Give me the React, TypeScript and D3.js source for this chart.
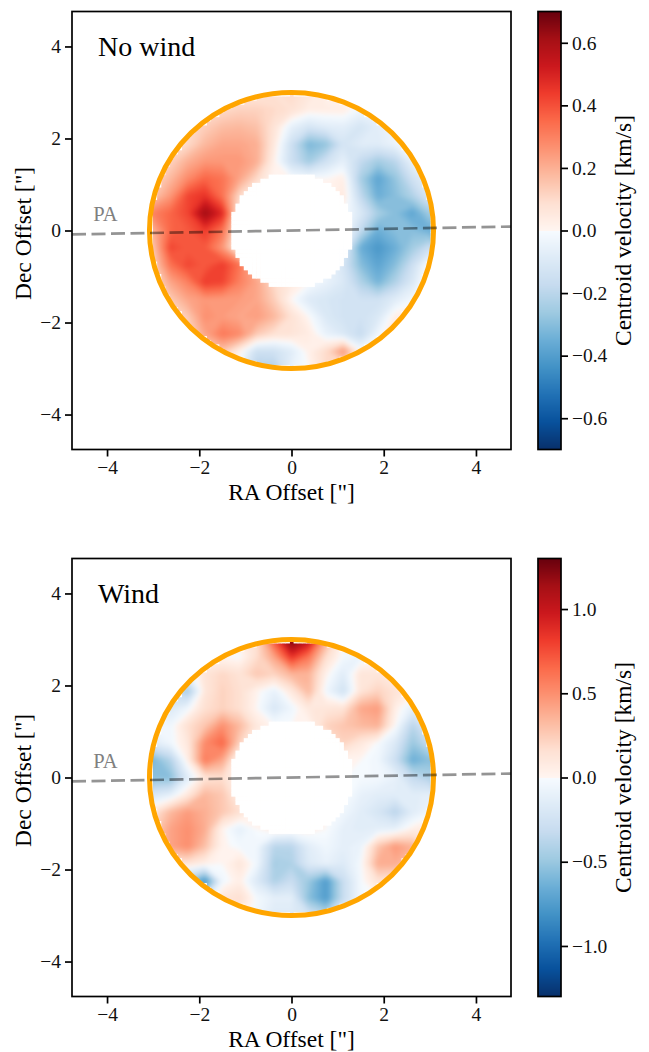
import { useEffect, useRef } from "react";
import * as d3 from "d3";

const WIDTH = 649;
const HEIGHT = 1052;

// offsets of the velocity grid in arcsec, rows run from +3 down to -3
const gridOffsets = [-3, -2.625, -2.25, -1.875, -1.5, -1.125, -0.75, -0.375, 0, 0.375, 0.75, 1.125, 1.5, 1.875, 2.25, 2.625, 3];

const noWindValues = [
  [0, 0, 0, 0.03, 0.05, 0.05, 0.06, 0.08, 0.1, 0.06, 0.02, 0, -0.02, -0.02, 0, 0, 0],
  [0.05, 0.05, 0.08, 0.1, 0.1, 0.12, 0.12, 0.1, 0.08, 0.03, 0.03, 0.03, -0.03, -0.03, -0.02, 0, 0],
  [0.05, 0.08, 0.1, 0.13, 0.17, 0.18, 0.16, 0.07, -0.06, -0.12, -0.08, -0.07, -0.12, -0.07, -0.03, 0, 0],
  [0.05, 0.08, 0.1, 0.18, 0.22, 0.22, 0.2, 0.05, -0.15, -0.32, -0.28, -0.12, -0.08, -0.08, -0.04, -0.02, 0],
  [0.08, 0.12, 0.2, 0.25, 0.25, 0.25, 0.2, 0.02, -0.15, -0.25, -0.14, -0.06, -0.18, -0.25, -0.2, -0.05, -0.02],
  [0.1, 0.18, 0.28, 0.36, 0.33, 0.22, 0.1, 0, 0, 0, 0, 0.03, -0.24, -0.38, -0.28, -0.14, -0.05],
  [0.15, 0.25, 0.42, 0.46, 0.33, 0.1, 0, 0, 0, 0, 0, 0.05, -0.18, -0.35, -0.3, -0.22, -0.1],
  [0.3, 0.36, 0.42, 0.62, 0.48, 0.02, 0, 0, 0, 0, 0, 0, -0.1, -0.24, -0.3, -0.38, -0.25],
  [0.2, 0.36, 0.38, 0.44, 0.33, 0.03, 0, 0, 0, 0, 0, 0, -0.18, -0.35, -0.3, -0.3, -0.35],
  [0.15, 0.42, 0.38, 0.38, 0.25, 0, 0, 0, 0, 0, 0, -0.06, -0.35, -0.42, -0.35, -0.25, -0.15],
  [0.12, 0.33, 0.42, 0.38, 0.44, 0.33, 0.12, 0, 0, 0, 0, -0.12, -0.3, -0.38, -0.3, -0.15, 0.02],
  [0.08, 0.22, 0.3, 0.44, 0.42, 0.3, 0.22, 0.1, 0.05, 0, -0.05, -0.1, -0.22, -0.33, -0.22, -0.1, 0.05],
  [0.03, 0.14, 0.22, 0.25, 0.24, 0.24, 0.22, 0.13, 0, -0.09, -0.11, -0.13, -0.14, -0.14, -0.08, -0.02, 0.02],
  [0.02, 0.08, 0.14, 0.27, 0.24, 0.22, 0.24, 0.18, 0.08, 0, -0.1, -0.13, -0.14, -0.1, 0.03, 0.05, 0.03],
  [0, 0.05, 0.1, 0.22, 0.32, 0.28, 0.14, 0.08, 0.07, 0.04, -0.05, -0.1, -0.17, -0.03, 0.08, 0.03, 0],
  [0, 0, 0.05, 0.1, 0.15, 0.02, -0.15, -0.14, -0.08, 0.02, 0.1, 0.25, 0, 0, 0, 0, 0],
  [0, 0, 0, 0.05, 0.05, -0.05, -0.22, -0.22, -0.05, 0, 0.1, 0.05, 0, 0, 0, 0, 0],
];

const windValues = [
  [0, 0, 0, 0, 0.02, 0.05, 0.15, 0.75, 1.3, 1.05, 0.4, 0, -0.05, -0.05, 0, 0, 0],
  [0, 0, 0, 0, 0, -0.02, 0.17, 0.42, 0.85, 0.6, 0.17, -0.03, -0.08, -0.05, 0, 0, 0],
  [0, 0, -0.1, 0.13, 0.2, 0.14, 0.27, 0.22, 0.35, 0.35, 0.03, -0.15, 0.12, 0.12, 0.05, 0, 0],
  [-0.1, -0.3, -0.45, 0.12, 0.22, 0.16, 0.02, -0.1, 0.1, 0.33, -0.05, -0.25, 0.13, 0.22, 0.14, 0.05, 0],
  [-0.1, -0.18, -0.05, 0.16, 0.22, 0.16, 0, -0.2, -0.06, 0.1, 0.12, 0.14, 0.4, 0.45, 0.05, -0.12, -0.12],
  [-0.05, -0.05, 0.16, 0.28, 0.5, 0.33, 0.1, 0, 0, 0, 0.22, 0.28, 0.33, 0.36, 0, -0.38, -0.14],
  [-0.15, -0.05, 0.1, 0.52, 0.66, 0.22, 0, 0, 0, 0, 0, 0.22, 0.1, -0.02, -0.18, -0.5, -0.3],
  [-0.6, -0.4, 0.05, 0.58, 0.4, -0.05, 0, 0, 0, 0, 0, 0, 0, -0.05, -0.28, -0.65, -0.55],
  [-0.55, -0.55, -0.15, 0.13, 0.17, 0, 0, 0, 0, 0, 0, 0, -0.02, -0.03, -0.1, -0.32, -0.42],
  [-0.2, -0.12, 0.1, 0.34, 0.27, 0.05, 0, 0, 0, 0, 0, 0.02, -0.1, -0.14, -0.14, -0.14, -0.12],
  [0.12, 0.33, 0.45, 0.37, 0.27, 0.16, 0.02, 0, 0, 0, 0, -0.05, -0.14, -0.22, -0.38, -0.15, -0.05],
  [0.22, 0.42, 0.5, 0.38, 0.02, -0.12, 0, 0.1, 0.05, 0.05, 0, -0.12, -0.14, -0.12, -0.1, 0.05, 0.1],
  [0.22, 0.42, 0.5, 0.3, 0.02, -0.03, -0.05, -0.38, -0.38, -0.14, -0.05, -0.12, -0.08, 0.28, 0.46, 0.36, 0.12],
  [0, 0.1, 0.12, 0.05, 0, 0.12, -0.05, -0.45, -0.42, -0.17, -0.1, -0.17, -0.03, 0.38, 0.38, 0.22, 0.05],
  [0, -0.2, -0.45, -0.8, -0.05, 0.05, -0.18, -0.42, -0.3, -0.5, -0.75, -0.3, -0.03, 0.14, 0.1, 0, 0],
  [0, 0, -0.1, -0.2, 0.12, 0.17, -0.03, -0.12, -0.12, -0.55, -0.75, -0.3, -0.03, 0, 0, 0, 0],
  [0, 0, 0, 0, 0.05, 0.05, -0.05, -0.17, -0.17, -0.22, -0.35, -0.1, 0, 0, 0, 0, 0],
];

const axisTicks = [-4, -2, 0, 2, 4];
const noWindBarTicks = [-0.6, -0.4, -0.2, 0, 0.2, 0.4, 0.6];
const windBarTicks = [-1, -0.5, 0, 0.5, 1];

// matplotlib Blues / Reds stops, joined at zero
const bluesStops = ["#f7fbff", "#deebf7", "#c6dbef", "#9ecae1", "#6baed6", "#4292c6", "#2171b5", "#08519c", "#08306b"];
const redsStops = ["#fff5f0", "#fee0d2", "#fcbba1", "#fc9272", "#fb6a4a", "#ef3b2c", "#cb181d", "#a50f15", "#67000d"];

const LIMIT = 4.76;
const RING_RX = 3.08;
const RING_RY = 3;
const FONT = "'Liberation Serif', serif";

const blues = d3.piecewise(d3.interpolateRgb, bluesStops);
const reds = d3.piecewise(d3.interpolateRgb, redsStops);
const colorOf = (v: number, vmax: number) => (v >= 0 ? reds(Math.min(v / vmax, 1)) : blues(Math.min(-v / vmax, 1)));

function drawPanel(root: any, id: string, top: number, title: string, values: number[][], vmax: number, barTicks: number[]) {
  const left = 72;
  const size = 439;
  const height = 438;
  const x = d3.scaleLinear().domain([-LIMIT, LIMIT]).range([left, left + size]);
  const y = d3.scaleLinear().domain([-LIMIT, LIMIT]).range([top + height, top]);
  const g = root.append("g");

  g.append("clipPath").attr("id", `disc-${id}`)
    .append("ellipse").attr("cx", x(0)).attr("cy", y(0)).attr("rx", x(RING_RX) - x(0)).attr("ry", y(0) - y(RING_RY));

  // Velocity map: filled contours of the grid, softened a little
  const step = gridOffsets[1] - gridOffsets[0];
  const thresholds = d3.range(-vmax, vmax, vmax / 50);
  const contours = d3.contours().size([gridOffsets.length, gridOffsets.length]).thresholds(thresholds)(values.flat());
  const project = d3.geoTransform({
    point(px: number, py: number) {
      (this as any).stream.point(x(gridOffsets[0] + (px - 0.5) * step), y(-gridOffsets[0] - (py - 0.5) * step));
    },
  });
  const path = d3.geoPath(project);
  const map = g.append("g").attr("clip-path", `url(#disc-${id})`).append("g").attr("filter", "url(#soften)");
  map.selectAll("path").data(contours).join("path")
    .attr("d", (d: any) => path(d))
    .attr("fill", (d: any) => colorOf(d.value + vmax / 100, vmax));

  // Blocky mask, one square per map pixel: central hole and rim
  const cell = 0.09;
  const coords = d3.range(-36, 37).map((i) => i * cell);
  const mask: [number, number][] = [];
  coords.forEach((cx) => coords.forEach((cy) => {
    const inHole = (cx / 1.34) ** 2 + (cy / 1.26) ** 2 < 1;
    const r = Math.hypot(cx / RING_RX, cy / RING_RY);
    if (inHole || (r > 0.99 && r < 1.05)) mask.push([cx, cy]);
  }));
  g.append("g").selectAll("rect").data(mask).join("rect")
    .attr("x", (d: any) => x(d[0] - cell / 2))
    .attr("y", (d: any) => y(d[1] + cell / 2))
    .attr("width", x(cell) - x(0) + 0.5)
    .attr("height", x(cell) - x(0) + 0.5)
    .attr("fill", "white");

  // Ring, PA line
  g.append("ellipse").attr("cx", x(0)).attr("cy", y(0)).attr("rx", x(RING_RX) - x(0)).attr("ry", y(0) - y(RING_RY))
    .attr("fill", "none").attr("stroke", "orange").attr("stroke-width", 5);
  g.append("line")
    .attr("x1", x(-LIMIT)).attr("y1", y(-0.085)).attr("x2", x(LIMIT)).attr("y2", y(0.085))
    .attr("stroke", "black").attr("stroke-opacity", 0.42).attr("stroke-width", 2.7).attr("stroke-dasharray", "14,5.5");
  g.append("text").attr("x", x(-4.3)).attr("y", y(0.2)).text("PA")
    .attr("fill", "#808080").attr("font-size", 20.5).attr("font-family", FONT);
  g.append("text").attr("x", 98).attr("y", y(3.8)).text(title)
    .attr("fill", "black").attr("font-size", 28).attr("font-family", FONT);

  // Frame and axes
  g.append("rect").attr("x", left).attr("y", top).attr("width", size).attr("height", height)
    .attr("fill", "none").attr("stroke", "black").attr("stroke-width", 1.7);
  const styleAxis = (a: any) => {
    a.select(".domain").remove();
    a.selectAll("line").attr("stroke-width", 1.7);
    a.selectAll("text").attr("font-size", 19.5).attr("font-family", FONT).attr("fill", "#111");
  };
  g.append("g").attr("transform", `translate(0,${top + height})`)
    .call(d3.axisBottom(x).tickValues(axisTicks).tickSize(7).tickPadding(4)).call(styleAxis);
  g.append("g").attr("transform", `translate(${left},0)`)
    .call(d3.axisLeft(y).tickValues(axisTicks).tickSize(7).tickPadding(4)).call(styleAxis);
  g.append("text").attr("x", x(0)).attr("y", top + height + 50).attr("text-anchor", "middle")
    .attr("font-size", 23.5).attr("font-family", FONT).text('RA Offset ["]');
  g.append("text").attr("transform", `translate(31,${y(0) + 3}) rotate(-90)`).attr("text-anchor", "middle")
    .attr("font-size", 23.5).attr("font-family", FONT).text('Dec Offset ["]');

  // Colour bar
  const barX = 538;
  const barW = 23;
  const bar = d3.scaleLinear().domain([-vmax, vmax]).range([top + height, top]);
  const levels = d3.range(-vmax, vmax, (2 * vmax) / 438);
  g.append("g").selectAll("rect").data(levels).join("rect")
    .attr("x", barX).attr("width", barW)
    .attr("y", (d: number) => bar(d) - 1.5).attr("height", 2)
    .attr("fill", (d: number) => colorOf(d, vmax));
  g.append("rect").attr("x", barX).attr("y", top).attr("width", barW).attr("height", height)
    .attr("fill", "none").attr("stroke", "black").attr("stroke-width", 1.7);
  g.append("g").attr("transform", `translate(${barX + barW},0)`)
    .call(d3.axisRight(bar).tickValues(barTicks).tickFormat(d3.format(".1f") as any).tickSize(7).tickPadding(4)).call(styleAxis);
  g.append("text").attr("transform", `translate(631,${y(0)}) rotate(-90)`).attr("text-anchor", "middle")
    .attr("font-size", 23.5).attr("font-family", FONT).text("Centroid velocity [km/s]");
}

export default function App() {
  const svgRef = useRef<SVGSVGElement>(null);

  useEffect(() => {
    const svg = d3.select(svgRef.current);
    svg.selectAll("*").remove();
    svg.append("filter").attr("id", "soften")
      .attr("filterUnits", "userSpaceOnUse").attr("x", 0).attr("y", 0).attr("width", WIDTH).attr("height", HEIGHT)
      .attr("color-interpolation-filters", "sRGB")
      .append("feGaussianBlur").attr("stdDeviation", 2);
    drawPanel(svg, "nowind", 11.5, "No wind", noWindValues, 0.7, noWindBarTicks);
    drawPanel(svg, "wind", 558.5, "Wind", windValues, 1.3, windBarTicks);
  }, []);

  return (
    <svg
      ref={svgRef}
      width={WIDTH}
      height={HEIGHT}
      style={{ position: "absolute", left: 0, top: 0, background: "white" }}
    />
  );
}
